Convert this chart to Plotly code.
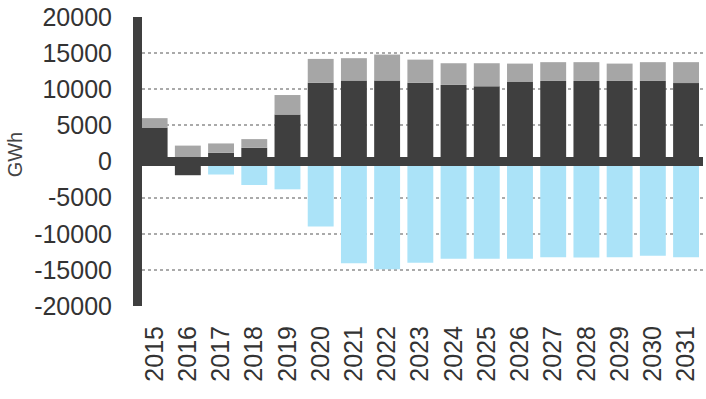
import plotly.graph_objects as go

years = [str(y) for y in range(2015, 2032)]
dark = [4700, -1900, 1200, 1900, 6500, 10900, 11200, 11200, 10900, 10600, 10400,
        11000, 11150, 11150, 11150, 11150, 10850]
gray = [1300, 2200, 1300, 1200, 2700, 3300, 3100, 3600, 3200, 3000, 3200,
        2550, 2600, 2600, 2400, 2600, 2900]
blue = [0, 0, -1800, -3250, -3850, -9000, -14100, -14900, -14000, -13450, -13450,
        -13450, -13250, -13300, -13250, -13050, -13250]
ytick_vals = [-20000, -15000, -10000, -5000, 0, 5000, 10000, 15000, 20000]
ytick_text = ["-20000", "-15000", "-10000", "-5000", "0", "5000", "10000", "15000", "20000"]

DARK = "#3f3f3f"
GRAY = "#a6a6a6"
BLUE = "#abe3f8"
FONT = "Liberation Sans, Arial, Helvetica, sans-serif"

fig = go.Figure()
fig.add_trace(go.Bar(x=years, y=dark, marker=dict(color=DARK, line=dict(width=0))))
fig.add_trace(go.Bar(x=years, y=gray, marker=dict(color=GRAY, line=dict(width=0))))
fig.add_trace(go.Bar(x=years, y=blue, marker=dict(color=BLUE, line=dict(width=0))))

fig.update_layout(
    width=706, height=399,
    barmode="relative", bargap=0.22,
    showlegend=False,
    plot_bgcolor="white", paper_bgcolor="white",
    margin=dict(l=142, r=3, t=15, b=93),
    font=dict(family=FONT, color="#333333"),
    xaxis=dict(
        type="category", range=[-0.38, 16.51],
        showgrid=False, showline=False, zeroline=False, ticks="",
        tickangle=-90, tickfont=dict(size=25, color="#333333"),
        ticklabelstandoff=14,
    ),
    yaxis=dict(
        range=[-20000, 20000], tickvals=ytick_vals, ticktext=ytick_text,
        showgrid=True, gridcolor="#aaaaaa", gridwidth=1.5, griddash="dot",
        zeroline=False,
        showline=True, linewidth=9, linecolor=DARK,
        ticks="", tickfont=dict(size=25, color="#333333"),
        ticklabelstandoff=16,
    ),
    shapes=[dict(type="line", xref="paper", x0=0, x1=1, yref="y", y0=0, y1=0,
                 line=dict(color=DARK, width=9), layer="above")],
    annotations=[dict(text="GWh", textangle=-90, showarrow=False,
                      xref="paper", x=(15 - 142) / 561, xanchor="center",
                      yref="paper", y=(305.7 - 153) / 291, yanchor="middle",
                      font=dict(size=20, color="#444444"))],
)

fig.write_html("out.html")
